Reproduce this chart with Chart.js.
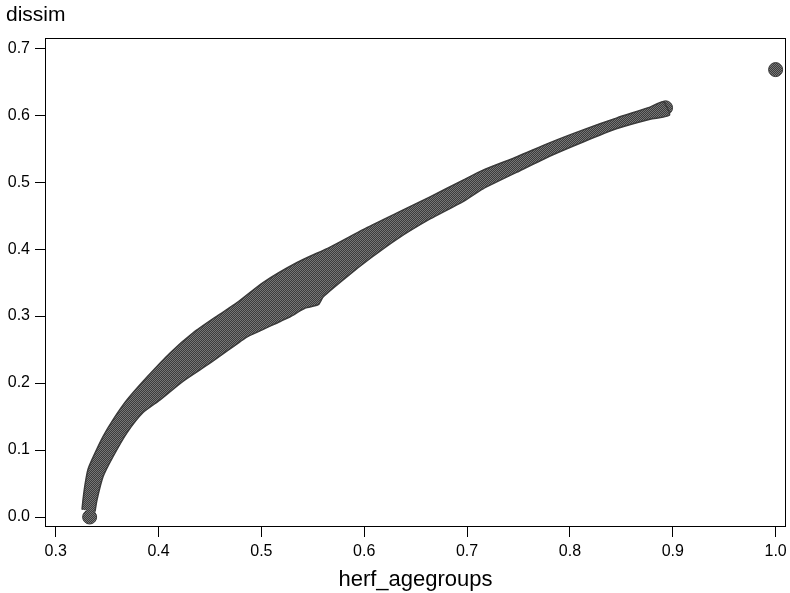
<!DOCTYPE html>
<html><head><meta charset="utf-8">
<script src="https://cdn.jsdelivr.net/npm/chart.js@4/dist/chart.umd.min.js"></script>
<style>html,body{margin:0;padding:0;background:#fff}#wrap{width:790px;height:593px}</style>
</head><body><div id="wrap"><canvas id="c" width="790" height="593"></canvas></div>
<script>
// Tick labels
const xTicks = [0.3, 0.4, 0.5, 0.6, 0.7, 0.8, 0.9, 1.0];
const yTicks = [0.0, 0.1, 0.2, 0.3, 0.4, 0.5, 0.6, 0.7];

// Dense band of observations: outline of the point cloud (upper edge, left to right)
const bandUpperX = [0.3256, 0.3266, 0.3285, 0.3314, 0.3363, 0.3460, 0.3557, 0.3694, 0.3888, 0.4112, 0.4336, 0.4569, 0.4763, 0.5016, 0.5347, 0.5668, 0.5988, 0.6319, 0.6640, 0.6961, 0.7155, 0.7486, 0.7807, 0.8128, 0.8458, 0.8779, 0.8906];
const bandUpperY = [0.011, 0.026, 0.048, 0.071, 0.089, 0.120, 0.145, 0.175, 0.209, 0.245, 0.275, 0.300, 0.320, 0.350, 0.380, 0.403, 0.429, 0.454, 0.478, 0.503, 0.518, 0.538, 0.559, 0.578, 0.596, 0.612, 0.620];
// lower edge, right to left
const bandLowerX = [0.8968, 0.8779, 0.8458, 0.8128, 0.7807, 0.7486, 0.7155, 0.6961, 0.6640, 0.6319, 0.6057, 0.5833, 0.5602, 0.5553, 0.5426, 0.5280, 0.5183, 0.4862, 0.4794, 0.4503, 0.4240, 0.4015, 0.3849, 0.3694, 0.3557, 0.3460, 0.3402, 0.3382];
const bandLowerY = [0.600, 0.594, 0.580, 0.560, 0.539, 0.515, 0.490, 0.471, 0.445, 0.415, 0.386, 0.359, 0.329, 0.317, 0.312, 0.299, 0.292, 0.269, 0.262, 0.230, 0.203, 0.175, 0.156, 0.126, 0.090, 0.060, 0.026, 0.008];
// extreme observations of the band (its two ends)
const capX = [0.333, 0.893];
const capY = [0.0, 0.611];
// isolated observation
const loneX = [1.0];
const loneY = [0.668];

const canvas = document.getElementById('c');
const ctx = canvas.getContext('2d');
const pc = document.createElement('canvas'); pc.width = 2; pc.height = 2;
const pctx = pc.getContext('2d');
pctx.fillStyle = '#3c3c3c'; pctx.fillRect(0, 0, 2, 2);
pctx.fillStyle = '#767676'; pctx.fillRect(0, 0, 1, 1); pctx.fillRect(1, 1, 1, 1);
const pat = ctx.createPattern(pc, 'repeat');

const bandPts = bandUpperX.map((x, i) => ({x, y: bandUpperY[i]}))
  .concat(bandLowerX.map((x, i) => ({x, y: bandLowerY[i]})));
const capPts = capX.map((x, i) => ({x, y: capY[i]}));
const lonePts = loneX.map((x, i) => ({x, y: loneY[i]}));

const boxPlugin = {
  id: 'box',
  afterDraw(chart) {
    const {left, right, top, bottom} = chart.chartArea;
    const c = chart.ctx;
    c.save();
    c.strokeStyle = '#000'; c.lineWidth = 1;
    c.strokeRect(Math.round(left) + 0.5, Math.round(top) + 0.5, Math.round(right - left) - 1, Math.round(bottom - top) - 1);
    c.restore();
  }
};

const FONT = "'Liberation Sans', Arial, sans-serif";

new Chart(canvas, {
  type: 'scatter',
  data: {
    datasets: [
      { data: bandPts, showLine: true, fill: 'shape', tension: 0.2, backgroundColor: pat, borderColor: '#3a3a3a', borderWidth: 1.5, pointRadius: 0 },
      { data: capPts, pointRadius: 7, backgroundColor: pat, borderColor: '#3a3a3a', borderWidth: 1 },
      { data: lonePts, pointRadius: 7, backgroundColor: pat, borderColor: '#333', borderWidth: 1 }
    ]
  },
  options: {
    responsive: false,
    animation: false,
    devicePixelRatio: 1,
    layout: { autoPadding: false, padding: { left: 6, right: 4, top: 0, bottom: 0 } },
    plugins: {
      legend: { display: false },
      tooltip: { enabled: false },
      title: { display: true, text: 'dissim', align: 'start', color: '#000', font: { family: FONT, size: 21, weight: 'normal' }, padding: { top: 3, bottom: 10 } }
    },
    scales: {
      x: {
        type: 'linear', min: 0.2896, max: 1.0101,
        afterBuildTicks: s => { s.ticks = xTicks.map(v => ({value: v})); },
        afterFit: s => { s.height = 66; s.paddingLeft = 0; s.paddingRight = 0; },
        grid: { display: true, drawOnChartArea: false, drawTicks: true, tickLength: 10, color: '#000', lineWidth: 1 },
        border: { display: false },
        ticks: { color: '#000', padding: 5, font: { family: FONT, size: 16 }, callback: v => v.toFixed(1), maxRotation: 0 },
        title: { display: true, text: 'herf_agegroups', color: '#000', font: { family: FONT, size: 22 }, padding: { top: 0, bottom: 0 } }
      },
      y: {
        type: 'linear', min: -0.0149, max: 0.7149,
        afterBuildTicks: s => { s.ticks = yTicks.map(v => ({value: v})); },
        afterFit: s => { s.width = 39; s.paddingTop = 0; s.paddingBottom = 0; },
        grid: { display: true, drawOnChartArea: false, drawTicks: true, tickLength: 10, color: '#000', lineWidth: 1 },
        border: { display: false },
        ticks: { color: '#000', padding: 5, font: { family: FONT, size: 16 }, callback: v => v.toFixed(1) }
      }
    }
  },
  plugins: [boxPlugin]
});
</script></body></html>
